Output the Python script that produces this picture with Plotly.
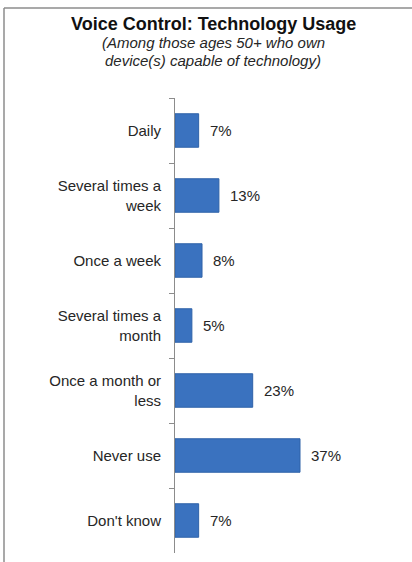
import plotly.graph_objects as go

categories = ["Daily", "Several times a<br>week", "Once a week",
              "Several times a<br>month", "Once a month or<br>less",
              "Never use", "Don't know"]
values = [7, 13, 8, 5, 23, 37, 7]
value_labels = ["7%", "13%", "8%", "5%", "23%", "37%", "7%"]

title_text = "Voice Control: Technology Usage"
subtitle_lines = ["(Among those ages 50+ who own", "device(s) capable of technology)"]

W, H = 412, 562
L, R, T, B = 175, 12, 98, 9
PW, PH = W - L - R, H - T - B

def px(x):
    return (x - L) / PW

def py(y):
    return (H - B - y) / PH

FONT = "Liberation Sans, Arial, sans-serif"
TXT = "#262626"
GREY = "#8c8c8c"

fig = go.Figure(go.Bar(
    x=values, y=categories, orientation="h",
    marker=dict(color="#3a72bf", line=dict(color="#2f62a8", width=1)),
    hoverinfo="skip",
))

annotations = []
for c, v, lab in zip(categories, values, value_labels):
    annotations.append(dict(x=v, y=c, xref="x", yref="y", text=lab,
                            showarrow=False, xanchor="left", yanchor="middle",
                            xshift=9, font=dict(family=FONT, size=15, color=TXT)))

annotations.append(dict(x=px(213), y=py(24), xref="paper", yref="paper",
                        text="<b>" + title_text + "</b>", showarrow=False,
                        xanchor="center", yanchor="middle",
                        font=dict(family=FONT, size=18, color="#111111")))
for i, line in enumerate(subtitle_lines):
    annotations.append(dict(x=px(213), y=py(43 + 17 * i), xref="paper", yref="paper",
                            text="<i>" + line + "</i>", showarrow=False,
                            xanchor="center", yanchor="middle",
                            font=dict(family=FONT, size=15, color=TXT)))

shapes = [
    dict(type="line", xref="paper", yref="paper", x0=px(4), x1=px(412), y0=py(8), y1=py(8),
         line=dict(color=GREY, width=1.5)),
    dict(type="line", xref="paper", yref="paper", x0=px(4), x1=px(4), y0=py(8), y1=py(562),
         line=dict(color=GREY, width=1.5)),
]

fig.update_layout(
    width=W, height=H,
    margin=dict(l=L, r=R, t=T, b=B),
    paper_bgcolor="white", plot_bgcolor="white",
    showlegend=False,
    bargap=0.485,
    annotations=annotations,
    shapes=shapes,
    xaxis=dict(range=[0, 66.6], visible=False, fixedrange=True),
    yaxis=dict(autorange="reversed", type="category",
               showline=True, linecolor=GREY, linewidth=1,
               ticks="outside", tickson="boundaries", ticklen=5, tickcolor=GREY,
               tickfont=dict(family=FONT, size=15, color=TXT),
               ticklabelstandoff=10,
               showgrid=False, zeroline=False, fixedrange=True),
)

fig.write_html("out.html", config={"displayModeBar": False})
